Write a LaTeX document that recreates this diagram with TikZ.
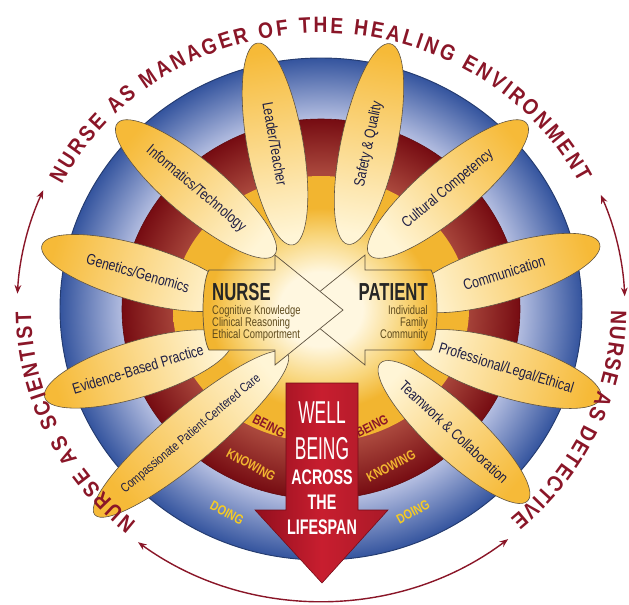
\documentclass[tikz,border=0pt]{standalone}
\usepackage{fontspec}
\setmainfont{Liberation Sans}
\newfontfamily\petalfont{Liberation Sans}[FakeStretch=0.8]
\newfontfamily\headfont{Liberation Sans}[FakeStretch=0.68]
\newfontfamily\infofont{Liberation Sans}[FakeStretch=0.75]
\newfontfamily\tallfont{Liberation Sans}[FakeStretch=0.55]
\newfontfamily\bandfont{Liberation Sans}[FakeStretch=0.8]
\newfontfamily\rolefont{Liberation Sans}[FakeStretch=0.86]
\usetikzlibrary{arrows.meta,positioning,shapes.geometric,decorations.text}

\definecolor{blueDark}{HTML}{34549E}
\definecolor{blueLight}{HTML}{B3BDE0}
\definecolor{redDark}{HTML}{760C12}
\definecolor{redLight}{HTML}{A9473C}
\definecolor{goldBand}{HTML}{F2B530}
\definecolor{goldSoft}{HTML}{F8D57A}
\definecolor{creamCore}{HTML}{FFF7E0}
\definecolor{petalGold}{HTML}{F6BA38}
\definecolor{petalCream}{HTML}{FFF5D6}
\definecolor{wbRed}{HTML}{C81E2F}
\definecolor{wbDark}{HTML}{920F1E}
\definecolor{arcRed}{HTML}{8A1628}
\definecolor{inkBlue}{HTML}{1E1E44}
\definecolor{infoBrown}{HTML}{5E4A1C}
\definecolor{rimGray}{HTML}{5E5240}

\pgfdeclareradialshading{blueband}{\pgfpointorigin}{color(0bp)=(blueLight); color(19bp)=(blueLight); color(25bp)=(blueDark); color(50bp)=(blueDark)}
\pgfdeclareradialshading{redband}{\pgfpointorigin}{color(0bp)=(redLight); color(18bp)=(redLight); color(25bp)=(redDark); color(50bp)=(redDark)}
\pgfdeclareradialshading{coreglow}{\pgfpointorigin}{color(0bp)=(creamCore); color(7bp)=(creamCore); color(14bp)=(goldSoft); color(19bp)=(goldBand); color(50bp)=(goldBand)}

\begin{document}
\begin{tikzpicture}[
        x=0.03cm, y=0.03cm,
        petal/.style={ellipse, draw=rimGray, line width=0.5pt, inner sep=0pt,
            minimum width=6.15cm, minimum height=1.68cm,
            top color=petalGold, bottom color=petalCream, shading angle=#1,
            text=inkBlue, font=\petalfont\fontsize{13}{15}\selectfont},
        hubarrow/.style={draw=rimGray, line width=0.6pt,
            path picture={\shade[shading=coreglow] (0,0) ellipse[x radius=148, y radius=133];}},
        headtext/.style={inner sep=0pt, text=black!85, font=\headfont\bfseries\fontsize{21}{22}\selectfont},
        infotext/.style={inner sep=0pt, text=infoBrown, font=\infofont\fontsize{10.7}{10.2}\selectfont},
        bandtext/.style={inner sep=0pt, font=\bandfont\bfseries\fontsize{11.5}{12}\selectfont},
        wbtall/.style={inner sep=0pt, text=white, font=\tallfont\fontsize{27}{27}\selectfont},
        wbbold/.style={inner sep=0pt, text=white, font=\headfont\bfseries\fontsize{18}{18}\selectfont},
        cycleline/.style={line width=1.2pt, draw=arcRed,
            {Stealth[length=2.6mm,width=2mm]}-{Stealth[length=2.6mm,width=2mm]}},
        arctext/.style={decorate, decoration={text along path, text align={fit to path},
            text color=arcRed, text={|\rolefont\bfseries\fontsize{19}{19}\selectfont|#1}}}
    ]
    \useasboundingbox (-321,-295) rectangle (308,309);

    % Rings: doing, knowing, being
    \shadedraw[shading=blueband, draw=blueDark!70!black, line width=0.8pt] (0,0) ellipse[x radius=261, y radius=251];
    \shadedraw[shading=redband, draw=redDark!80!black, line width=0.5pt] (0,0) ellipse[x radius=199, y radius=190];
    \shade[shading=coreglow] (0,0) ellipse[x radius=148, y radius=133];

    % Ring labels
    \node[bandtext, text=arcRed, rotate=-27] (beingL) at (-52,-117) {BEING};
    \node[bandtext, text=goldBand, rotate=-28] (knowingL) at (-70,-156) {KNOWING};
    \node[bandtext, text=goldBand!70!yellow, rotate=-28] (doingL) at (-94,-204) {DOING};
    \node[bandtext, text=arcRed, rotate=27] (beingR) at (51,-117) {BEING};
    \node[bandtext, text=goldBand, rotate=28] (knowingR) at (70,-157) {KNOWING};
    \node[bandtext, text=goldBand!70!yellow, rotate=28] (doingR) at (92,-203) {DOING};

    % Petals
    \node[petal=10, rotate=-80] (leader) at (-46,165) {Leader/Teacher};
    \node[petal=-10, rotate=78] (safety) at (48,165) {Safety \& Quality};
    \node[petal=50, rotate=-40] (informatics) at (-125,120) {Informatics/Technology};
    \node[petal=-50, rotate=40] (cultural) at (127,120) {Cultural Competency};
    \node[petal=74, rotate=-16, minimum width=6cm] (genetics) at (-183,36) {Genetics/Genomics};
    \node[petal=-73, rotate=17, minimum width=6cm] (communication) at (183,36) {Communication};
    \node[petal=107, rotate=17, minimum width=5.85cm] (evidence) at (-183,-60) {Evidence-Based Practice};
    \node[petal=-107, rotate=-17, minimum width=5.85cm] (professional) at (185,-60) {Professional/Legal/Ethical};
    \node[petal=129, rotate=40, minimum width=6cm, minimum height=1.6cm,
        font=\petalfont\fontsize{11}{13}\selectfont] (compassion) at (-130,-125) {Compassionate Patient-Centered Care};
    \node[petal=-133, rotate=-43, minimum width=6.05cm, minimum height=1.6cm] (teamwork) at (133,-123) {Teamwork \& Collaboration};

    % Patient and nurse arrows
    \draw[hubarrow] (110,39) -- (44,39) -- (44,54) -- (-24,-1) -- (44,-56) -- (44,-41) -- (110,-41)
        .. controls (118,-28) and (118,26) .. (110,39) -- cycle;
    \draw[hubarrow] (-112,39) -- (-46,39) -- (-46,54) -- (22,-1) -- (-46,-56) -- (-46,-41) -- (-112,-41)
        .. controls (-120,-28) and (-120,26) .. (-112,39) -- cycle;

    \node[headtext, anchor=west] (nurse) at (-109,17) {NURSE};
    \node[infotext, align=left, below=3.5pt of nurse.south west, anchor=north west] (nurseinfo)
        {Cognitive Knowledge\\Clinical Reasoning\\Ethical Comportment};
    \node[headtext, anchor=east] (patient) at (107,17) {PATIENT};
    \node[infotext, align=right, below=3.5pt of patient.south east, anchor=north east] (patientinfo)
        {Individual\\Family\\Community};

    % Well being arrow
    \draw[draw=wbDark!80!black, line width=0.5pt, left color=wbDark, right color=wbRed!85!black, middle color=wbRed]
        (-35,-74) -- (37,-74) -- (37,-201) -- (67,-201) -- (1,-274) -- (-66,-201) -- (-35,-201) -- cycle;
    \node[wbtall] (well) at (1,-104) {WELL};
    \node[wbtall] (wbbeing) at (1,-140) {BEING};
    \node[wbbold] (across) at (1,-168) {ACROSS};
    \node[wbbold] (wbthe) at (1,-193) {THE};
    \node[wbbold] (lifespan) at (1,-218) {LIFESPAN};

    % Outer roles
    \path[arctext={NURSE AS MANAGER OF THE HEALING ENVIRONMENT}]
        (153.3:290 and 276) arc[start angle=153.3, end angle=27.2, x radius=290, y radius=276];
    \path[arctext={NURSE AS SCIENTIST}]
        (230.5:290 and 276) arc[start angle=230.5, end angle=180.5, x radius=290, y radius=276];
    \path[arctext={NURSE AS DETECTIVE}]
        (-0.3:290 and 276) arc[start angle=-0.3, end angle=-49.3, x radius=290, y radius=276];

    % Cycle arrows between roles
    \coordinate (mgrLeft) at (156:304 and 292);
    \coordinate (sciTop) at (177:304 and 292);
    \coordinate (sciBottom) at (233:304 and 292);
    \coordinate (detBottom) at (308:304 and 292);
    \coordinate (detTop) at (2.5:304 and 292);
    \coordinate (mgrRight) at (23:304 and 292);
    \draw[cycleline] (mgrLeft) arc[start angle=156, end angle=177, x radius=304, y radius=292];
    \draw[cycleline] (sciBottom) arc[start angle=233, end angle=308, x radius=304, y radius=292];
    \draw[cycleline] (detTop) arc[start angle=2.5, end angle=23, x radius=304, y radius=292];
\end{tikzpicture}
\end{document}
